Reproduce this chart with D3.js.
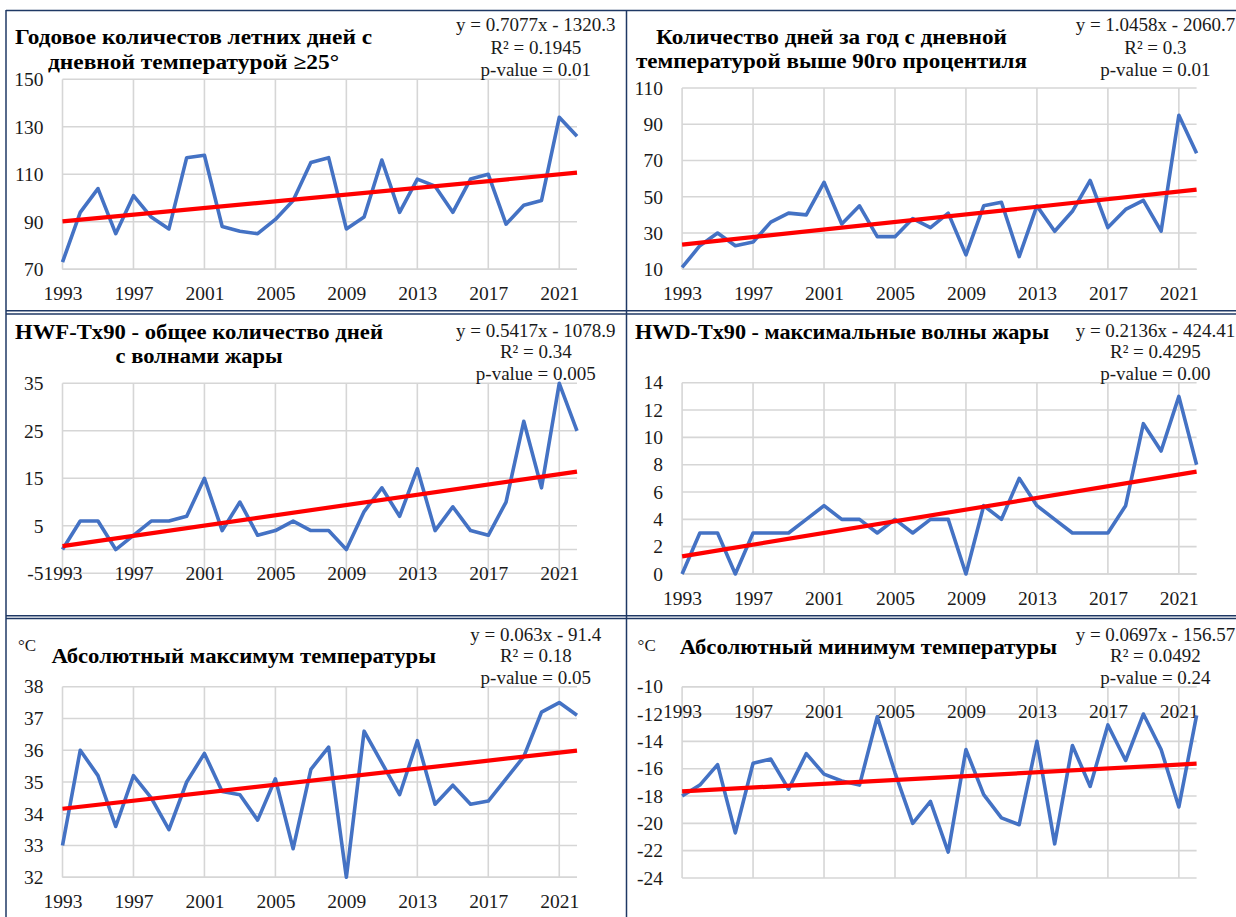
<!DOCTYPE html>
<html>
<head>
<meta charset="utf-8">
<script src="https://cdn.jsdelivr.net/npm/d3@7"></script>
<style>
  body { margin: 0; background: #fff; }
  svg { display: block; }
</style>
</head>
<body>
<svg id="chart" width="1236" height="917"></svg>
<script>
// ---- Data: station series 1993–2022 ----
const years = [1993, 1994, 1995, 1996, 1997, 1998, 1999, 2000, 2001, 2002,
               2003, 2004, 2005, 2006, 2007, 2008, 2009, 2010, 2011, 2012,
               2013, 2014, 2015, 2016, 2017, 2018, 2019, 2020, 2021, 2022];
const yearTicks = [1993, 1997, 2001, 2005, 2009, 2013, 2017, 2021];

// Summer days (Tmax >= 25°)
const summerDays = [73, 94, 104, 85, 101, 92, 87, 117, 118, 88,
                    86, 85, 91, 99, 115, 117, 87, 92, 116, 94,
                    108, 105, 94, 108, 110, 89, 97, 99, 134, 126];
// Days above the 90th percentile of Tmax
const hotDays90 = [11, 23, 30, 23, 25, 36, 41, 40, 58, 35,
                   45, 28, 28, 38, 33, 41, 18, 45, 47, 17,
                   45, 31, 42, 59, 33, 43, 48, 31, 95, 74];
// HWF-Tx90: total heat-wave days
const hwfTx90 = [0, 6, 6, 0, 3, 6, 6, 7, 15, 4,
                 10, 3, 4, 6, 4, 4, 0, 8, 13, 7,
                 17, 4, 9, 4, 3, 10, 27, 13, 35, 25];
// HWD-Tx90: longest heat wave
const hwdTx90 = [0, 3, 3, 0, 3, 3, 3, 4, 5, 4,
                 4, 3, 4, 3, 4, 4, 0, 5, 4, 7,
                 5, 4, 3, 3, 3, 5, 11, 9, 13, 8];
// Absolute maximum temperature, °C
const absMax = [33.0, 36.0, 35.2, 33.6, 35.2, 34.5, 33.5, 35.0, 35.9, 34.7,
                34.6, 33.8, 35.1, 32.9, 35.4, 36.1, 32.0, 36.6, 35.6, 34.6,
                36.3, 34.3, 34.9, 34.3, 34.4, 35.1, 35.8, 37.2, 37.5, 37.1];
// Absolute minimum temperature, °C
const absMin = [-18.0, -17.2, -15.7, -20.7, -15.6, -15.3, -17.5, -14.9, -16.4, -16.9,
                -17.2, -12.2, -16.3, -20.0, -18.4, -22.1, -14.6, -17.9, -19.6, -20.1,
                -14.0, -21.5, -14.3, -17.3, -12.8, -15.4, -12.0, -14.6, -18.8, -12.1];

// Value-axis ticks
const ticksSummer = [70, 90, 110, 130, 150];
const ticksHot = [10, 30, 50, 70, 90, 110];
const ticksHwf = [-5, 5, 15, 25, 35];
const ticksHwd = [0, 2, 4, 6, 8, 10, 12, 14];
const ticksMax = [32, 33, 34, 35, 36, 37, 38];
const ticksMin = [-24, -22, -20, -18, -16, -14, -12, -10];

// Linear trends (y = a*year + b) and their statistics
const trendSlope = [0.7077, 1.0458, 0.5417, 0.2136, 0.063, 0.0697];
const trendIntercept = [-1320.3, -2060.7, -1078.9, -424.41, -91.4, -156.57];
const trendR2 = ["0.1945", "0.3", "0.34", "0.4295", "0.18", "0.0492"];
const trendP = ["0.01", "0.01", "0.005", "0.00", "0.05", "0.24"];

// ---- Layout of the six panels ----
const panels = [
  { values: summerDays, ticks: ticksSummer, domain: [70, 150], cross: 70,
    ox: 0, top: 79.3, bottom: 269.3, eqBase: [30.5, 54.3, 76],
    title: [["Годовое количестов летних дней с", 15, 372, 43.5],
            ["дневной температурой ≥25°", 48, 339, 68.5]] },
  { values: hotDays90, ticks: ticksHot, domain: [10, 110], cross: 10,
    ox: 619.6, top: 88, bottom: 269.3, eqBase: [30.5, 54.3, 76],
    title: [["Количество дней за год с дневной", 656, 1007, 43.8],
            ["температурой выше 90го процентиля", 636, 1027, 68.2]] },
  { values: hwfTx90, ticks: ticksHwf, domain: [-5, 35], cross: 0,
    ox: 0, top: 383.3, bottom: 573.3, eqBase: [337.3, 358.3, 380],
    title: [["HWF-Tx90 - общее количество дней", 15, 383, 339.2],
            ["с волнами жары", 115.5, 282.7, 363.2]] },
  { values: hwdTx90, ticks: ticksHwd, domain: [0, 14], cross: 0,
    ox: 619.6, top: 382.7, bottom: 574, eqBase: [337.3, 358.3, 380],
    title: [["HWD-Tx90 - максимальные волны жары", 635, 1049, 339.2]] },
  { values: absMax, ticks: ticksMax, domain: [32, 38], cross: 32,
    ox: 0, top: 686.7, bottom: 877.3, eqBase: [640.7, 662.3, 684.3], unit: true,
    title: [["Абсолютный максимум температуры", 51.4, 436, 663.2]] },
  { values: absMin, ticks: ticksMin, domain: [-24, -10], cross: -10,
    ox: 619.6, top: 686.7, bottom: 878, eqBase: [640.7, 662.3, 684.3], unit: true,
    title: [["Абсолютный минимум температуры", 679.7, 1057, 654.2]] }
];

const FONT = "'Liberation Serif', 'Times New Roman', serif";
const svg = d3.select("#chart");
svg.append("rect").attr("width", 1236).attr("height", 917).attr("fill", "#fff");

function fmtSigned(v) {
  return (v < 0 ? "- " : "+ ") + String(Math.abs(v));
}

panels.forEach((p, i) => {
  const g = svg.append("g");
  const x = d3.scaleLinear().domain([1993, 2022]).range([p.ox + 62.5, p.ox + 577]);
  const y = d3.scaleLinear().domain(p.domain).range([p.bottom, p.top]);

  // gridlines
  g.append("g").selectAll("line").data(p.ticks).join("line")
    .attr("x1", x(1993)).attr("x2", x(2022))
    .attr("y1", d => y(d)).attr("y2", d => y(d))
    .attr("stroke", "#d6d6d6").attr("stroke-width", 1.6);
  g.append("g").selectAll("line").data(yearTicks).join("line")
    .attr("x1", d => x(d)).attr("x2", d => x(d))
    .attr("y1", y(p.domain[1])).attr("y2", y(p.domain[0]))
    .attr("stroke", "#d6d6d6").attr("stroke-width", 1.6);
  // category axis line
  g.append("line")
    .attr("x1", x(1993)).attr("x2", x(2022))
    .attr("y1", y(p.cross)).attr("y2", y(p.cross))
    .attr("stroke", "#d6d6d6").attr("stroke-width", 1.6);

  // value axis
  const ya = g.append("g")
    .attr("transform", `translate(${x(1993)},0)`)
    .call(d3.axisLeft(y).tickValues(p.ticks).tickSize(0).tickPadding(19)
      .tickFormat(d => String(d)));
  ya.select(".domain").remove();
  ya.selectAll("text").attr("font-family", FONT).attr("font-size", 19.5).attr("fill", "#1a1a1a");

  // category axis
  const xa = g.append("g")
    .attr("transform", `translate(0,${y(p.cross)})`)
    .call(d3.axisBottom(x).tickValues(yearTicks).tickSize(0).tickPadding(17)
      .tickFormat(d => String(d)));
  xa.select(".domain").remove();
  xa.selectAll("text").attr("font-family", FONT).attr("font-size", 19.5).attr("fill", "#1a1a1a");

  // data series
  const line = d3.line().x((d, k) => x(years[k])).y(d => y(d));
  g.append("path").datum(p.values)
    .attr("d", line)
    .attr("fill", "none").attr("stroke", "#4472c4")
    .attr("stroke-width", 3.6).attr("stroke-linejoin", "round");

  // linear trend
  const ends = [1993, 2022].map(yr => [yr, trendSlope[i] * yr + trendIntercept[i]]);
  g.append("path").datum(ends)
    .attr("d", d3.line().x(d => x(d[0])).y(d => y(d[1])))
    .attr("fill", "none").attr("stroke", "#ff0000").attr("stroke-width", 4.2);

  // title
  p.title.forEach(([txt, x0, x1, base]) => {
    g.append("text")
      .attr("x", x0).attr("y", base)
      .attr("textLength", x1 - x0).attr("lengthAdjust", "spacingAndGlyphs")
      .attr("font-family", FONT).attr("font-weight", "bold").attr("font-size", 20.5)
      .attr("fill", "#000").text(txt);
  });

  if (p.unit) {
    g.append("text").attr("x", p.ox + 18).attr("y", 651)
      .attr("font-family", FONT).attr("font-size", 17).attr("fill", "#1a1a1a").text("°C");
  }

  // trend equation and statistics
  const cx = p.ox + 535.8;
  const eqLines = [
    `y = ${trendSlope[i]}x ${fmtSigned(trendIntercept[i])}`,
    `R² = ${trendR2[i]}`,
    `p-value = ${trendP[i]}`
  ];
  eqLines.forEach((t, k) => {
    g.append("text").attr("x", cx).attr("y", p.eqBase[k])
      .attr("text-anchor", "middle")
      .attr("font-family", FONT).attr("font-size", 19).attr("fill", "#1a1a1a").text(t);
  });
});

// table frame around the panels
const frame = svg.append("g").attr("stroke", "#1f3864").attr("stroke-width", 1.5);
[[6, 10.5, 1236, 10.5], [6, 10, 6, 917], [626.5, 10, 626.5, 917],
 [6, 310.8, 1236, 310.8], [6, 314, 1236, 314],
 [6, 615.7, 1236, 615.7], [6, 618.5, 1236, 618.5]].forEach(([x1, y1, x2, y2]) => {
  frame.append("line").attr("x1", x1).attr("y1", y1).attr("x2", x2).attr("y2", y2);
});
</script>
</body>
</html>
